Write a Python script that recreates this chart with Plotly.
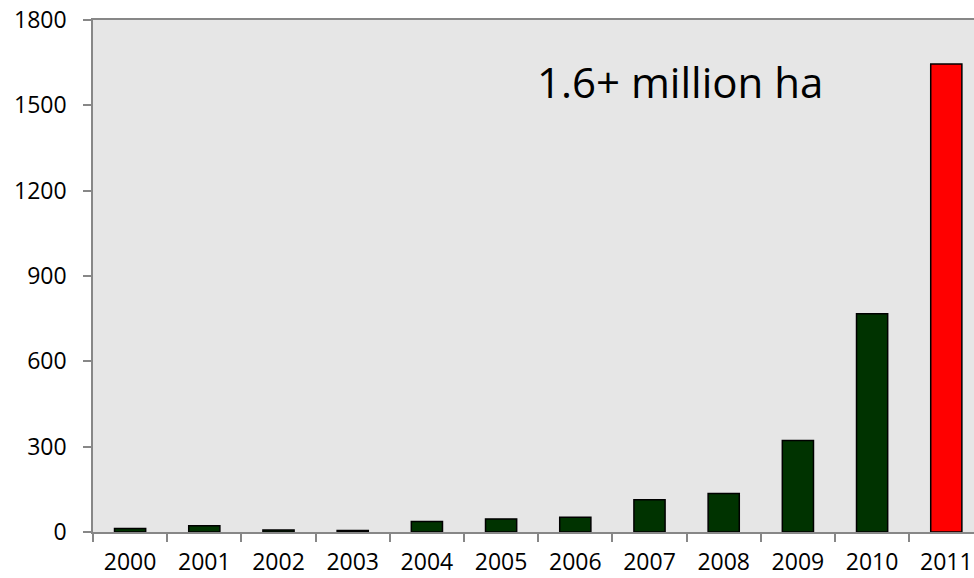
import plotly.graph_objects as go

years = ["2000", "2001", "2002", "2003", "2004", "2005", "2006", "2007", "2008", "2009", "2010", "2011"]
values = [12, 22, 7, 5, 37, 46, 52, 113, 135, 322, 767, 1645]
colors = ["#003300"] * 11 + ["#FF0000"]
yticks = [0, 300, 600, 900, 1200, 1500, 1800]

W, H = 974, 578
L, T, B = 93, 20, 46
plot_w = W - L
cat_w = 74.2
x_max = -0.5 + plot_w / cat_w

fig = go.Figure(go.Bar(
    x=years, y=values,
    marker=dict(color=colors, line=dict(color="#000000", width=1.5)),
    width=0.42,
))

font_family = "Open Sans, Liberation Sans, sans-serif"
fig.update_layout(
    width=W, height=H,
    margin=dict(l=L, r=0, t=T, b=B, pad=0),
    paper_bgcolor="white",
    plot_bgcolor="#E6E6E6",
    showlegend=False,
    font=dict(family=font_family, size=23, color="#000000"),
    xaxis=dict(
        type="category",
        range=[-0.5, x_max],
        automargin=False,
        showline=True, linecolor="#878787", linewidth=1.5,
        mirror=True,
        ticks="outside", ticklen=8, tickcolor="#878787", tickwidth=1.5,
        tickson="boundaries",
        showgrid=False,
        tickfont=dict(size=23),
        ticklabelstandoff=9,
    ),
    yaxis=dict(
        range=[0, 1800],
        tickvals=yticks,
        automargin=False,
        showline=True, linecolor="#878787", linewidth=1.5,
        ticks="outside", ticklen=8, tickcolor="#878787", tickwidth=1.5,
        showgrid=False, zeroline=False,
        tickfont=dict(size=23),
        ticklabelstandoff=12,
    ),
    annotations=[dict(
        text="1.6+ million ha",
        xref="paper", yref="paper",
        x=(680 - L) / plot_w, y=(532.5 - 82) / (H - T - B),
        xanchor="center", yanchor="middle",
        showarrow=False,
        font=dict(size=42, family=font_family, color="#000000"),
    )],
)

fig.write_html("out.html")
